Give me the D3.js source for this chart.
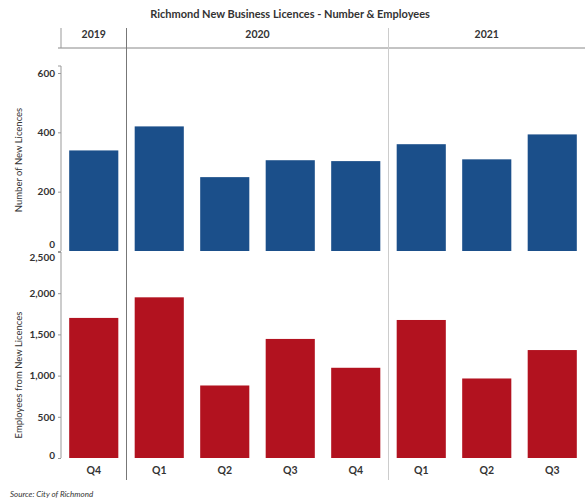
<!DOCTYPE html>
<html>
<head>
<meta charset="utf-8">
<script src="https://cdn.jsdelivr.net/npm/d3@7"></script>
<style>
  body { margin: 0; background: #fff; }
  text { font-family: Lato, "Open Sans", sans-serif; fill: #333; }
</style>
</head>
<body>
<svg id="chart" width="585" height="501"></svg>
<script>
// quarters, grouped by year
const quarters = ["Q4", "Q1", "Q2", "Q3", "Q4", "Q1", "Q2", "Q3"];
const years = ["2019", "2020", "2020", "2020", "2020", "2021", "2021", "2021"];
const licences = [339, 420, 249, 306, 303, 360, 309, 393];
const employees = [1700, 1950, 880, 1445, 1095, 1675, 965, 1310];
const licenceTicks = [0, 200, 400, 600];
const employeeTicks = [0, 500, 1000, 1500, 2000, 2500];

const svg = d3.select("#chart");
const left = 61, right = 585;
const keys = quarters.map((q, i) => i);

const x = d3.scaleBand().domain(keys).range([left, right]).paddingInner(0.25).paddingOuter(0.125);
const yTop = d3.scaleLinear().domain([0, 600]).range([251, 73]);
const yBot = d3.scaleLinear().domain([0, 2500]).range([458, 252]);

// title
svg.append("text")
  .attr("x", 290).attr("y", 18)
  .attr("text-anchor", "middle")
  .style("font-size", "11px").style("font-weight", "bold")
  .text("Richmond New Business Licences - Number & Employees");

// year header
const yearGroups = d3.groups(keys, i => years[i]);
yearGroups.forEach(([yr, idx]) => {
  const x0 = x(idx[0]) - x.step() * x.paddingInner() / 2;
  const x1 = x(idx[idx.length - 1]) + x.bandwidth() + x.step() * x.paddingInner() / 2;
  svg.append("text")
    .attr("x", (x0 + Math.min(x1, right)) / 2).attr("y", 38)
    .attr("text-anchor", "middle")
    .style("font-size", "10.5px").style("font-weight", "bold")
    .text(yr);
});
svg.append("line")
  .attr("x1", left - 3).attr("x2", right).attr("y1", 48).attr("y2", 48)
  .attr("stroke", "#888").attr("stroke-width", 1);

// dividers between years
yearGroups.slice(1).forEach(([yr, idx], k) => {
  const xd = x(idx[0]) - x.step() * x.paddingInner() / 2;
  svg.append("line")
    .attr("x1", xd).attr("x2", xd).attr("y1", 28).attr("y2", 480)
    .attr("stroke", k === 0 ? "#777" : "#ccc").attr("stroke-width", 1);
});
svg.append("line")
  .attr("x1", left).attr("x2", left).attr("y1", 28).attr("y2", 48)
  .attr("stroke", "#999");

// axes
function yAxis(scale, ticks, top, bottom, lift, drop) {
  const g = svg.append("g").attr("transform", `translate(${left},0)`)
    .call(d3.axisLeft(scale).tickValues(ticks).tickSize(3).tickFormat(d3.format(",")));
  g.select(".domain").attr("d", `M-3,${top}H0V${bottom}`).attr("stroke", "#999");
  g.selectAll(".tick line").attr("stroke", "#999");
  g.selectAll(".tick text").style("font-size", "10px").style("font-weight", "bold").attr("fill", "#444");
  // nudge the end labels apart where the two panels meet
  g.selectAll(".tick").filter(d => d === ticks[0]).select("text").attr("y", lift);
  g.selectAll(".tick").filter(d => d === ticks[ticks.length - 1]).select("text").attr("y", drop);
  return g;
}
yAxis(yTop, licenceTicks, 66, 251, -7, 0);
yAxis(yBot, employeeTicks, 252, 458, -3, 5);

// bars
svg.append("g").selectAll("rect").data(licences).join("rect")
  .attr("x", (d, i) => x(i)).attr("width", x.bandwidth())
  .attr("y", d => yTop(d)).attr("height", d => yTop(0) - yTop(d))
  .attr("fill", "#1b4f8a");

svg.append("g").selectAll("rect").data(employees).join("rect")
  .attr("x", (d, i) => x(i)).attr("width", x.bandwidth())
  .attr("y", d => yBot(d)).attr("height", d => yBot(0) - yBot(d))
  .attr("fill", "#b2121f");

// quarter labels
svg.append("g").selectAll("text").data(quarters).join("text")
  .attr("x", (d, i) => x(i) + x.bandwidth() / 2).attr("y", 474)
  .attr("text-anchor", "middle")
  .style("font-size", "10.5px").style("font-weight", "bold")
  .text(d => d);

// axis titles
svg.append("text")
  .attr("transform", "translate(22,160) rotate(-90)")
  .attr("text-anchor", "middle").style("font-size", "9.5px")
  .text("Number of New Licences");
svg.append("text")
  .attr("transform", "translate(22,375) rotate(-90)")
  .attr("text-anchor", "middle").style("font-size", "9.5px")
  .text("Employees from New Licences");

// source
svg.append("text")
  .attr("x", 10).attr("y", 497)
  .style("font-size", "8px").style("font-style", "italic")
  .text("Source: City of Richmond");
</script>
</body>
</html>
